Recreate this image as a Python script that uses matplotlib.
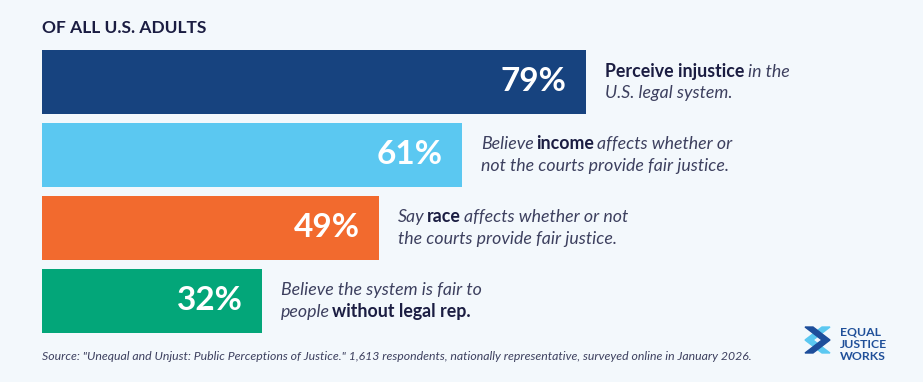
import matplotlib.pyplot as plt
from matplotlib.patches import Polygon

W, H = 923, 382
BG = "#f3f8fc"
NAVY_TXT = "#1b1d42"
GREY_TXT = "#3d405f"

# data
values = [79, 61, 49, 32]
labels = ["79%", "61%", "49%", "32%"]
colors = ["#17437f", "#5bc8f1", "#f26a2e", "#03a679"]
notes = [
    [[("Perceive injustice", "bold"), ("in the", "italic")],
     [("U.S. legal system.", "italic")]],
    [[("Believe", "italic"), ("income", "bold"), ("affects whether or", "italic")],
     [("not the courts provide fair justice.", "italic")]],
    [[("Say", "italic"), ("race", "bold"), ("affects whether or not", "italic")],
     [("the courts provide fair justice.", "italic")]],
    [[("Believe the system is fair to", "italic")],
     [("people", "italic"), ("without legal rep.", "bold")]],
]
title = "OF ALL U.S. ADULTS"
source = ('Source: "Unequal and Unjust: Public Perceptions of Justice." 1,613 respondents, '
          'nationally representative, surveyed online in January 2026.')

plt.rcParams["font.family"] = ["Lato", "DejaVu Sans"]

fig = plt.figure(figsize=(W / 100, H / 100), dpi=100, facecolor=BG)
ax = fig.add_axes([42 / W, 44.5 / H, 688.6 / W, 292 / H])
ax.set_facecolor("none")

ypos = list(range(len(values)))
ax.barh(ypos, values, height=0.89, color=colors)
ax.set_xlim(0, 100)
ax.set_ylim(3.5, -0.5)
ax.axis("off")


def seg_style(style):
    if style == "bold":
        return dict(fontweight="bold", fontstyle="normal", color=NAVY_TXT)
    return dict(fontweight="normal", fontstyle="italic", color=GREY_TXT)


GAPS = {("bold", "italic"): 2.6, ("italic", "bold"): 1.6, ("italic", "italic"): 2.6}

for i, v in enumerate(values):
    ax.annotate(labels[i], xy=(v, i), xytext=(-14, 0), textcoords="offset points",
                ha="right", va="center", color="white", fontsize=24, fontweight="bold")
    for j, line in enumerate(notes[i]):
        dy = 7.8 if j == 0 else -7.8
        prev = None
        prev_style = None
        for text, style in line:
            if prev is None:
                prev = ax.annotate(text, xy=(v, i), xytext=(13.5, dy), textcoords="offset points",
                                   ha="left", va="center", fontsize=12.8, **seg_style(style))
            else:
                gap = GAPS.get((prev_style, style), 2.6)
                prev = ax.annotate(text, xy=(1, 0), xycoords=prev, xytext=(gap, 0),
                                   textcoords="offset points", ha="left", va="bottom",
                                   fontsize=12.8, **seg_style(style))
            prev_style = style

fig.text(42 / W, 1 - 28 / H, title, ha="left", va="center", fontsize=12.5,
         fontweight="bold", color=NAVY_TXT)
fig.text(42 / W, 1 - 357 / H, source, ha="left", va="center", fontsize=8.8,
         fontstyle="italic", color=GREY_TXT)


# logo
def px(x, y):
    return (x / W, 1 - y / H)


navy_mark = [px(805, 327), px(813, 327), px(830, 340), px(813, 353), px(805, 353), px(822, 340)]
blue_mark = [px(830, 327), px(822, 327), px(805, 340), px(822, 353), px(830, 353), px(813, 340)]
fig.patches.append(Polygon(blue_mark, closed=True, transform=fig.transFigure, color="#5bc8f1"))
fig.patches.append(Polygon(navy_mark, closed=True, transform=fig.transFigure, color="#1d4e9b"))
for k, word in enumerate(["EQUAL", "JUSTICE", "WORKS"]):
    fig.text(840 / W, 1 - (332 + 12.5 * k) / H, word, ha="left", va="center",
             fontsize=8.8, fontweight="bold", color="#1f4f99")

fig.savefig("out.png", dpi=100, facecolor=BG)
